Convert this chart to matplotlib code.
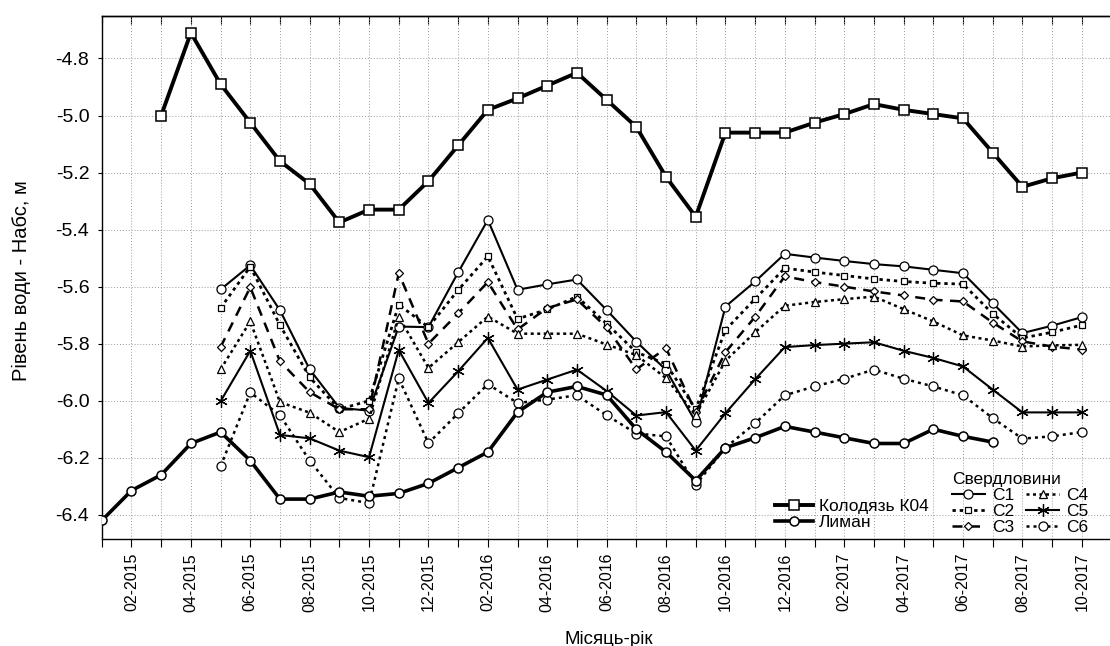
import matplotlib
matplotlib.use("Agg")
import matplotlib.pyplot as plt
import numpy as np

plt.rcParams['font.family'] = ['Liberation Sans', 'DejaVu Sans']

# months 01-2015 .. 10-2017, index 0..33
months = ["%02d-%d" % (m, y) for y in (2015, 2016, 2017) for m in range(1, 13)][:34]

# well K04, from 03-2015
k04_start = 2
k04 = [-5.00, -4.71, -4.89, -5.025, -5.16, -5.24, -5.375, -5.33, -5.33, -5.23,
       -5.105, -4.98, -4.94, -4.895, -4.85, -4.945, -5.04, -5.215, -5.355, -5.06,
       -5.06, -5.06, -5.025, -4.995, -4.96, -4.98, -4.995, -5.01, -5.13, -5.25,
       -5.22, -5.20]

# liman, from 01-2015
liman_start = 0
liman = [-6.42, -6.315, -6.26, -6.15, -6.11, -6.21, -6.345, -6.345, -6.32, -6.335,
         -6.325, -6.29, -6.235, -6.18, -6.04, -5.97, -5.95, -5.98, -6.10, -6.18,
         -6.28, -6.165, -6.13, -6.09, -6.11, -6.13, -6.15, -6.15, -6.10, -6.125,
         -6.145]

# boreholes, from 05-2015
bh_start = 4
c1 = [-5.61, -5.525, -5.683, -5.89, -6.025, -6.035, -5.74, -5.742, -5.55, -5.366,
      -5.611, -5.592, -5.575, -5.682, -5.793, -5.892, -6.075, -5.67, -5.582, -5.485,
      -5.498, -5.51, -5.521, -5.529, -5.541, -5.553, -5.658, -5.763, -5.737, -5.707]
c2 = [-5.675, -5.53, -5.735, -5.918, -6.03, -6.00, -5.663, -5.742, -5.612, -5.494,
      -5.713, -5.68, -5.635, -5.73, -5.83, -5.871, -6.03, -5.752, -5.643, -5.535,
      -5.549, -5.561, -5.573, -5.582, -5.588, -5.591, -5.695, -5.78, -5.76, -5.735]
c3 = [-5.812, -5.602, -5.862, -5.97, -6.03, -6.03, -5.553, -5.80, -5.694, -5.584,
      -5.75, -5.675, -5.645, -5.743, -5.89, -5.816, -6.04, -5.83, -5.706, -5.564,
      -5.584, -5.60, -5.617, -5.631, -5.646, -5.652, -5.726, -5.792, -5.81, -5.821]
c4 = [-5.89, -5.722, -6.005, -6.042, -6.11, -6.063, -5.706, -5.885, -5.795, -5.705,
      -5.765, -5.765, -5.765, -5.803, -5.84, -5.921, -6.05, -5.86, -5.76, -5.667,
      -5.654, -5.644, -5.635, -5.679, -5.722, -5.771, -5.789, -5.81, -5.806, -5.804]
c5 = [-6.002, -5.825, -6.12, -6.132, -6.175, -6.198, -5.822, -6.008, -5.897, -5.78,
      -5.961, -5.926, -5.891, -5.966, -6.052, -6.04, -6.175, -6.044, -5.925, -5.812,
      -5.805, -5.80, -5.795, -5.825, -5.85, -5.88, -5.961, -6.041, -6.041, -6.041]
c6 = [-6.23, -5.971, -6.051, -6.21, -6.341, -6.359, -5.922, -6.149, -6.044, -5.942,
      -6.008, -5.996, -5.981, -6.051, -6.115, -6.125, -6.295, -6.165, -6.079, -5.981,
      -5.95, -5.923, -5.891, -5.923, -5.95, -5.981, -6.061, -6.133, -6.125, -6.11]

yticks = [-6.4, -6.2, -6.0, -5.8, -5.6, -5.4, -5.2, -5.0, -4.8]

fig = plt.figure(figsize=(11.1, 6.46), dpi=100)
ax = fig.add_axes([0.0917, 0.1656, 0.9083, 0.8101])

def xs(start, vals):
    return np.arange(start, start + len(vals))

mfc = 'white'
k04_line, = ax.plot(xs(k04_start, k04), k04, '-', color='black', lw=2.8,
                    marker='s', ms=7, mfc=mfc, mec='black', mew=1.1, zorder=6)
liman_line, = ax.plot(xs(liman_start, liman), liman, '-', color='black', lw=2.6,
                      marker='o', ms=6.5, mfc=mfc, mec='black', mew=1.1, zorder=6)

bh_style = [
    (c1, dict(ls='-', lw=1.5, marker='o', ms=6.5), 'С1'),
    (c2, dict(ls=(0, (1.2, 1.4)), lw=2.0, marker='s', ms=4.5), 'С2'),
    (c3, dict(ls=(0, (4, 3)), lw=1.8, marker='D', ms=4.5), 'С3'),
    (c4, dict(ls=(0, (1.2, 1.4)), lw=1.8, marker='^', ms=6), 'С4'),
    (c5, dict(ls='-', lw=1.5, marker=(6, 2, 0), ms=9), 'С5'),
    (c6, dict(ls=(0, (1.2, 1.6)), lw=1.8, marker='o', ms=6.5), 'С6'),
]
bh_handles = []
for vals, st, name in bh_style:
    h, = ax.plot(xs(bh_start, vals), vals, color='black', mfc=mfc, mec='black',
                 mew=0.9, zorder=5, **st)
    bh_handles.append(h)

ax.set_xlim(0, 33.95)
ax.set_ylim(-6.485, -4.65)

ax.set_xticks(np.arange(len(months)))
ax.set_xticklabels([lab if i % 2 == 1 else '' for i, lab in enumerate(months)],
                   rotation=90, fontsize=11.5)
ax.set_yticks(yticks)
ax.set_yticklabels(['%.1f' % v for v in yticks], fontsize=14)
ax.tick_params(axis='x', direction='out', length=6, width=0.8, pad=4)
ax.tick_params(axis='y', direction='out', length=3, width=0.8, pad=6)

# inward ticks along the top edge
top = ax.secondary_xaxis('top')
top.set_xticks(np.arange(len(months)))
top.tick_params(direction='in', length=6, width=0.8, labeltop=False)
top.spines['top'].set_linewidth(1.0)

ax.grid(True, ls=(0, (1, 2)), color='#9a9a9a', lw=0.7)
ax.set_axisbelow(True)
ax.spines['right'].set_visible(False)
for s in ('left', 'top', 'bottom'):
    ax.spines[s].set_linewidth(1.0)

ax.set_ylabel('Рівень води - Набс, м', fontsize=14.5)
ax.yaxis.set_label_coords(-0.070, 0.493)
ax.set_xlabel('Місяць-рік', fontsize=13.5)
ax.xaxis.set_label_coords(0.503, -0.176)

leg_font = {'family': ['Liberation Sans', 'DejaVu Sans'], 'size': 12.5}
leg1 = ax.legend([k04_line, liman_line], ['Колодязь К04', 'Лиман'],
                 loc='lower left', bbox_to_anchor=(0.668, 0.017), frameon=False,
                 handlelength=2.2, handletextpad=0.3, labelspacing=0.05,
                 borderaxespad=0, borderpad=0, prop=leg_font)
ax.add_artist(leg1)
leg2 = ax.legend(bh_handles, [b[2] for b in bh_style], ncol=2,
                 title='Свердловини', loc='lower left',
                 bbox_to_anchor=(0.843, 0.008), frameon=False,
                 handlelength=1.9, handletextpad=0.4, columnspacing=0.7,
                 labelspacing=0.05, borderaxespad=0, borderpad=0,
                 prop=leg_font, title_fontproperties=leg_font)
leg2._legend_box.align = 'left'

fig.savefig('out.png', dpi=100)
